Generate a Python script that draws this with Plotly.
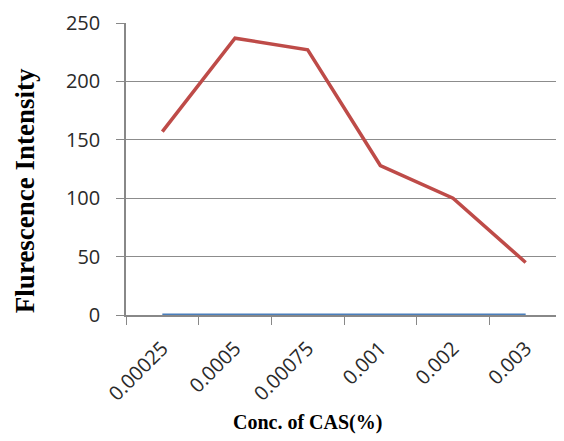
import plotly.graph_objects as go

categories = ["0.00025", "0.0005", "0.00075", "0.001", "0.002", "0.003"]
intensity = [157, 237, 227, 128, 100, 45]
baseline = [0, 0, 0, 0, 0, 0]
y_ticks = [0, 50, 100, 150, 200, 250]

# page has an 8px body margin, so the figure is sized to fit the window
W, H = 556, 433
fig = go.Figure()
fig.add_trace(go.Scatter(x=categories, y=baseline, mode="lines",
                         line=dict(color="#4a7ebb", width=3), showlegend=False))
fig.add_trace(go.Scatter(x=categories, y=intensity, mode="lines",
                         line=dict(color="#be4b48", width=3.5), showlegend=False))

PL, PR, PT, PB = 126, 562, 22.7, 315  # plot area in window coordinates
fig.update_layout(
    width=W, height=H,
    margin=dict(l=PL - 8, r=W - (PR - 8), t=PT - 8, b=H - (PB - 8), autoexpand=False),
    paper_bgcolor="white", plot_bgcolor="white",
    font=dict(family="Open Sans, sans-serif", color="#222"),
    annotations=[
        dict(text="<b>Conc. of CAS(%)</b>", xref="paper", yref="paper",
             x=(307 - PL) / (PR - PL), y=-(423 - PB) / (PB - PT),
             xanchor="center", yanchor="middle", showarrow=False,
             font=dict(family="Liberation Serif, serif", size=20, color="black")),
        dict(text="<b>Flurescence Intensity</b>", xref="paper", yref="paper",
             x=-(PL - 25) / (PR - PL), y=(PB - 191) / (PB - PT),
             xanchor="center", yanchor="middle", textangle=-90, showarrow=False,
             font=dict(family="Liberation Serif, serif", size=27, color="black")),
    ],
)
fig.update_xaxes(
    type="category", range=[-0.5, 5.5], automargin=False,
    tickson="boundaries", ticks="outside", ticklen=8, tickcolor="#888",
    showline=True, linecolor="#888", linewidth=1.5,
    showgrid=False, tickangle=-45, ticklabelstandoff=12,
    tickfont=dict(size=20, family="Open Sans, sans-serif", color="#2a2a2a"),
)
fig.update_yaxes(
    range=[0, 250], tickvals=y_ticks, automargin=False,
    ticks="outside", ticklen=8, tickcolor="#888",
    showline=True, linecolor="#888", linewidth=1.5,
    showgrid=True, gridcolor="#8c8c8c", gridwidth=1,
    zeroline=False,
    ticklabelstandoff=12,
    tickfont=dict(size=20, family="Open Sans, sans-serif", color="#2a2a2a"),
)

fig.write_html("out.html")
